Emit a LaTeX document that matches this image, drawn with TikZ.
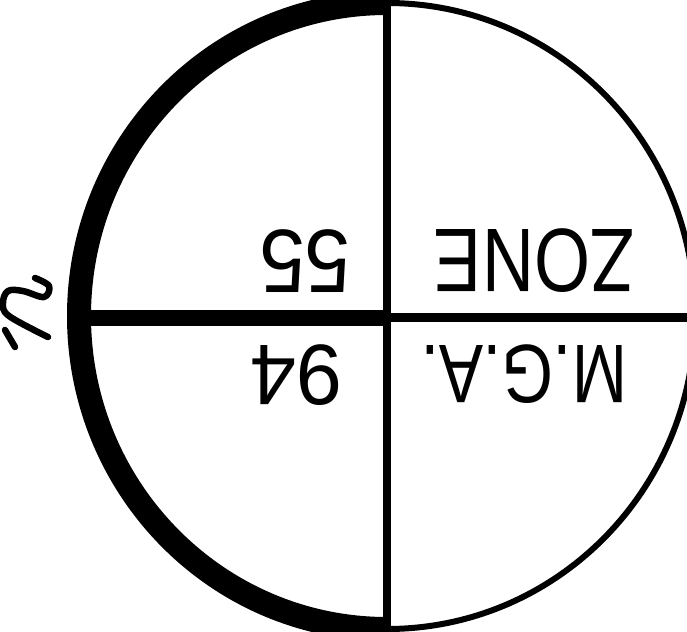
\documentclass[tikz,border=0pt]{standalone}
\usepackage{fontspec}
\setmainfont{Liberation Sans}
\newfontfamily\lblfont{Liberation Sans}
\begin{document}
\begin{tikzpicture}[x=1pt,y=-1pt,
  heavy/.style={line width=24pt},
  light/.style={line width=6pt},
  barheavy/.style={line width=16pt},
  barlight/.style={line width=9pt},
  divider/.style={line width=8pt},
  lbl/.style={inner sep=0pt, outer sep=0pt, rotate=180, font=\lblfont},
  squig/.style={line width=6.5pt, line cap=round, line join=round}
]
\useasboundingbox (0,0) rectangle (687,631);
\clip (0,0) rectangle (687,631);
\coordinate (c) at (387,316);
\coordinate (bot) at (387,629);
\coordinate (top) at (387,-4);
\coordinate (bottom) at (387,635);
\coordinate (left) at (80,318);
\coordinate (cl) at (387,318);
\coordinate (cr) at (387,317.5);
\coordinate (right) at (700,317.5);
% circle halves
\draw[heavy] (bot) arc[start angle=90, end angle=270, x radius=308, y radius=313];
\draw[light] (bot) arc[start angle=90, end angle=-90, x radius=308, y radius=313];
% cross lines
\draw[barheavy] (left) -- (cl);
\draw[barlight] (cr) -- (right);
\draw[divider] (top) -- (bottom);
% labels (upside down)
\node[lbl] (n55) at (305,261) {\resizebox{91pt}{62pt}{55}};
\node[lbl] (n94) at (296,375) {\resizebox{92pt}{60pt}{94}};
\node[lbl] (zone) at (534,261) {\resizebox{200pt}{63pt}{ZONE}};
\node[lbl] (mga) at (524,374) {\resizebox{206pt}{58pt}{M.G.A.}};
% squiggle mark at left
\draw[squig] plot[smooth, tension=0.6] coordinates {(35,278) (49,286) (44,297) (23,291) (8,291) (3,303) (9,316) (48,337)};
\draw[squig] (5,330) -- (15,347);
\end{tikzpicture}
\end{document}
